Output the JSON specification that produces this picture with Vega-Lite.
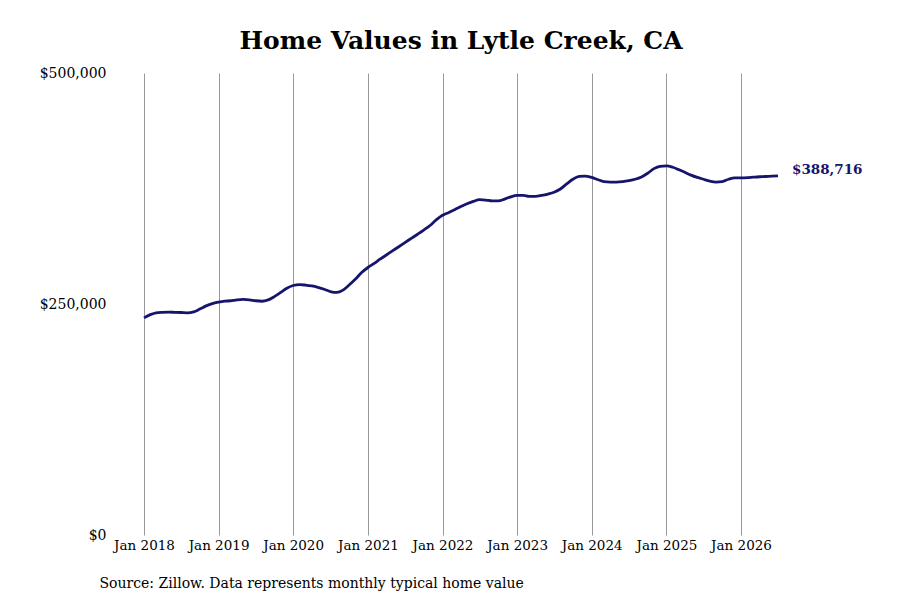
{
  "$schema": "https://vega.github.io/schema/vega-lite/v6.json",
  "width": 634,
  "height": 462,
  "autosize": "none",
  "padding": {"left": 144, "top": 73, "right": 122, "bottom": 65},
  "background": "white",
  "title": {
    "text": "Home Values in Lytle Creek, CA",
    "font": "DejaVu Serif",
    "fontSize": 25,
    "fontWeight": "bold",
    "color": "#000000",
    "anchor": "middle",
    "offset": 12
  },
  "data": {
    "values": [
      {"date": "2018-01", "value": 235000}, {"date": "2018-02", "value": 238500}, {"date": "2018-03", "value": 240500}, {"date": "2018-04", "value": 241000},
      {"date": "2018-05", "value": 241200}, {"date": "2018-06", "value": 241000}, {"date": "2018-07", "value": 240800}, {"date": "2018-08", "value": 240500},
      {"date": "2018-09", "value": 241500}, {"date": "2018-10", "value": 244500}, {"date": "2018-11", "value": 248000}, {"date": "2018-12", "value": 250500},
      {"date": "2019-01", "value": 252000}, {"date": "2019-02", "value": 253000}, {"date": "2019-03", "value": 253500}, {"date": "2019-04", "value": 254500},
      {"date": "2019-05", "value": 255000}, {"date": "2019-06", "value": 254500}, {"date": "2019-07", "value": 253500}, {"date": "2019-08", "value": 253000},
      {"date": "2019-09", "value": 254500}, {"date": "2019-10", "value": 258000}, {"date": "2019-11", "value": 262500}, {"date": "2019-12", "value": 267000},
      {"date": "2020-01", "value": 270000}, {"date": "2020-02", "value": 271000}, {"date": "2020-03", "value": 270500}, {"date": "2020-04", "value": 269500},
      {"date": "2020-05", "value": 268000}, {"date": "2020-06", "value": 266000}, {"date": "2020-07", "value": 263500}, {"date": "2020-08", "value": 262500},
      {"date": "2020-09", "value": 265000}, {"date": "2020-10", "value": 270500}, {"date": "2020-11", "value": 277000}, {"date": "2020-12", "value": 284000},
      {"date": "2021-01", "value": 289500}, {"date": "2021-02", "value": 294000}, {"date": "2021-03", "value": 298500}, {"date": "2021-04", "value": 303000},
      {"date": "2021-05", "value": 307500}, {"date": "2021-06", "value": 312000}, {"date": "2021-07", "value": 316500}, {"date": "2021-08", "value": 321000},
      {"date": "2021-09", "value": 325500}, {"date": "2021-10", "value": 330000}, {"date": "2021-11", "value": 335000}, {"date": "2021-12", "value": 341000},
      {"date": "2022-01", "value": 346000}, {"date": "2022-02", "value": 349000}, {"date": "2022-03", "value": 352000}, {"date": "2022-04", "value": 355500},
      {"date": "2022-05", "value": 358500}, {"date": "2022-06", "value": 361000}, {"date": "2022-07", "value": 363000}, {"date": "2022-08", "value": 362500},
      {"date": "2022-09", "value": 361500}, {"date": "2022-10", "value": 361500}, {"date": "2022-11", "value": 363500}, {"date": "2022-12", "value": 366000},
      {"date": "2023-01", "value": 367500}, {"date": "2023-02", "value": 367500}, {"date": "2023-03", "value": 366500}, {"date": "2023-04", "value": 366500},
      {"date": "2023-05", "value": 367500}, {"date": "2023-06", "value": 369000}, {"date": "2023-07", "value": 371000}, {"date": "2023-08", "value": 374500},
      {"date": "2023-09", "value": 380000}, {"date": "2023-10", "value": 385000}, {"date": "2023-11", "value": 388000}, {"date": "2023-12", "value": 388500},
      {"date": "2024-01", "value": 387000}, {"date": "2024-02", "value": 384500}, {"date": "2024-03", "value": 382500}, {"date": "2024-04", "value": 382000},
      {"date": "2024-05", "value": 382000}, {"date": "2024-06", "value": 382500}, {"date": "2024-07", "value": 383500}, {"date": "2024-08", "value": 385000},
      {"date": "2024-09", "value": 387500}, {"date": "2024-10", "value": 391500}, {"date": "2024-11", "value": 396500}, {"date": "2024-12", "value": 399000},
      {"date": "2025-01", "value": 399500}, {"date": "2025-02", "value": 398000}, {"date": "2025-03", "value": 395500}, {"date": "2025-04", "value": 392500},
      {"date": "2025-05", "value": 389500}, {"date": "2025-06", "value": 387000}, {"date": "2025-07", "value": 385000}, {"date": "2025-08", "value": 383000},
      {"date": "2025-09", "value": 382000}, {"date": "2025-10", "value": 382500}, {"date": "2025-11", "value": 385000}, {"date": "2025-12", "value": 386500},
      {"date": "2026-01", "value": 386500}, {"date": "2026-02", "value": 386700}, {"date": "2026-03", "value": 387200}, {"date": "2026-04", "value": 387700},
      {"date": "2026-05", "value": 388000}, {"date": "2026-06", "value": 388400}, {"date": "2026-07", "value": 388716}
    ],
    "format": {"parse": {"date": "date:'%Y-%m'"}}
  },
  "encoding": {
    "x": {
      "field": "date",
      "type": "temporal",
      "scale": {"nice": false},
      "axis": {
        "title": "Source: Zillow. Data represents monthly typical home value",
        "titleFont": "DejaVu Serif",
        "titleFontSize": 14,
        "titleFontWeight": "normal",
        "titleColor": "#000000",
        "titleAnchor": "start",
        "titleAlign": "left",
        "titleBaseline": "middle",
        "titleX": -45,
        "titleY": 48,
        "format": "%b %Y",
        "tickCount": {"interval": "year", "step": 1},
        "labelFont": "DejaVu Serif",
        "labelFontSize": 13.5,
        "labelColor": "#000000",
        "labelPadding": 3,
        "labelFlush": false,
        "labelOverlap": false,
        "domain": false,
        "ticks": false,
        "grid": true,
        "gridColor": "#999999",
        "gridWidth": 1
      }
    },
    "y": {
      "field": "value",
      "type": "quantitative",
      "scale": {"domain": [0, 500000]},
      "axis": {
        "title": null,
        "values": [0, 250000, 500000],
        "format": "$,.0f",
        "labelFont": "DejaVu Serif",
        "labelFontSize": 14,
        "labelColor": "#000000",
        "labelPadding": 38,
        "domain": false,
        "ticks": false,
        "grid": false
      }
    }
  },
  "layer": [
    {
      "mark": {"type": "line", "color": "#15156b", "strokeWidth": 2.8, "interpolate": "monotone"}
    },
    {
      "transform": [{"filter": "datum.value == 388716"}],
      "mark": {
        "type": "text",
        "align": "left",
        "baseline": "middle",
        "dx": 14,
        "dy": -6,
        "font": "DejaVu Serif",
        "fontSize": 13.5,
        "fontWeight": "bold",
        "color": "#15156b"
      },
      "encoding": {
        "text": {"field": "value", "type": "quantitative", "format": "$,.0f"}
      }
    }
  ],
  "config": {
    "view": {"stroke": null}
  }
}
